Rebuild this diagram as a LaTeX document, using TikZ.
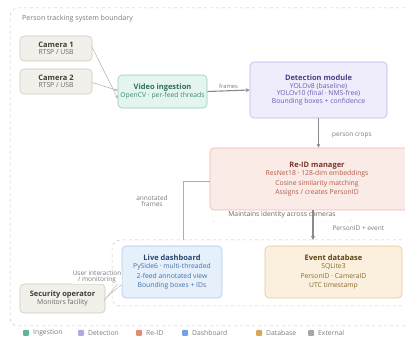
\documentclass[tikz,border=0pt]{standalone}
\usepackage{fontspec}
\setmainfont{Open Sans}
\usetikzlibrary{arrows.meta}
\definecolor{ingF}{HTML}{E3F5EE}\definecolor{ingD}{HTML}{8FD0B5}\definecolor{ingT}{HTML}{2F6E55}\definecolor{ingB}{HTML}{3D8A6A}\definecolor{ingL}{HTML}{5FB592}
\definecolor{detF}{HTML}{EFECFB}\definecolor{detD}{HTML}{BCB3EA}\definecolor{detT}{HTML}{4B3F86}\definecolor{detB}{HTML}{6A5FB0}\definecolor{detL}{HTML}{B3A6E6}
\definecolor{reiF}{HTML}{FBEBE7}\definecolor{reiD}{HTML}{E8B9AD}\definecolor{reiT}{HTML}{7A3526}\definecolor{reiB}{HTML}{B05A48}\definecolor{reiL}{HTML}{E08A78}
\definecolor{dshF}{HTML}{E6F0FB}\definecolor{dshD}{HTML}{A9C8EC}\definecolor{dshT}{HTML}{27466E}\definecolor{dshB}{HTML}{4170A8}\definecolor{dshL}{HTML}{6FA4E0}
\definecolor{dbsF}{HTML}{FBF0DE}\definecolor{dbsD}{HTML}{E4C694}\definecolor{dbsT}{HTML}{5C4215}\definecolor{dbsB}{HTML}{8A6A30}\definecolor{dbsL}{HTML}{D9A55A}
\definecolor{extF}{HTML}{F2F0EA}\definecolor{extD}{HTML}{CDC8BB}\definecolor{extT}{HTML}{3F3D38}\definecolor{extB}{HTML}{6B675E}\definecolor{extL}{HTML}{A8A6A0}
\definecolor{lbl}{HTML}{7A7A7A}
\definecolor{conn}{HTML}{8A8A8A}
\newcommand\bttl[2]{{\fontsize{7.5}{9}\selectfont\bfseries\color{#1}#2}}
\begin{document}
\begin{tikzpicture}[x=1pt,y=-1pt,
  box/.style={draw, rounded corners=4pt, line width=0.6pt, align=center, inner sep=0pt},
  sm/.style={font=\fontsize{6.8}{7.6}\selectfont},
  lg/.style={font=\fontsize{6.8}{9.3}\selectfont},
  lab/.style={font=\fontsize{6.5}{7.5}\selectfont, text=lbl, align=center, inner sep=1pt},
  thin/.style={draw=conn!70, line width=0.5pt, -{Stealth[length=3pt,width=2.5pt]}},
  thick/.style={draw=conn, line width=1.1pt, -{Stealth[length=4pt,width=4pt]}},
  grp/.style={draw=gray!45, dashed, line width=0.5pt, rounded corners=8pt, inner sep=0pt},
  leg/.style={minimum size=6pt, inner sep=0pt, rounded corners=1pt},
  legt/.style={font=\fontsize{6.8}{7.5}\selectfont, text=lbl, anchor=west, inner sep=0pt}
]
\useasboundingbox (0,0) rectangle (405,339);
\clip (0,0) rectangle (405,339);
% boundaries
\node[grp, minimum width=415pt, minimum height=318pt] (outer) at (217.5,167) {};
\node[lab, anchor=west, font=\fontsize{7.1}{8}\selectfont] (bl) at (21,19) {Person tracking system boundary};
\node[grp, minimum width=310pt, minimum height=66pt] (inner) at (267,273) {};
% maintains label box
\node[draw=gray!25, dashed, rounded corners=3pt, minimum width=140pt, minimum height=22pt, inner sep=0pt] (mbox) at (282,211) {};
% boxes
\node[box, sm, fill=extF, draw=extD, text=extB, minimum width=72pt, minimum height=25pt] (cam1) at (56,48.5)
  {\bttl{extT}{Camera 1}\\[-1pt]RTSP / USB};
\node[box, sm, fill=extF, draw=extD, text=extB, minimum width=72pt, minimum height=25pt] (cam2) at (56,81.5)
  {\bttl{extT}{Camera 2}\\[-1pt]RTSP / USB};
\node[box, sm, fill=ingF, draw=ingD, text=ingB, minimum width=89pt, minimum height=33pt] (ing) at (162.5,91.5)
  {\bttl{ingT}{Video ingestion}\\[1pt]OpenCV · per-feed threads};
\node[box, sm, fill=detF, draw=detD, text=detB, minimum width=137pt, minimum height=56pt] (det) at (318.5,90)
  {\bttl{detT}{Detection module}\\[0pt]YOLOv8 (baseline)\\YOLOv10 (final · NMS-free)\\Bounding boxes + confidence};
\node[box, lg, fill=reiF, draw=reiD, text=reiB, minimum width=214pt, minimum height=62pt] (reid) at (317,179)
  {\bttl{reiT}{Re-ID manager}\\[-1pt]ResNet18 · 128-dim embeddings\\Cosine similarity matching\\Assigns / creates PersonID};
\node[font=\fontsize{6.8}{7.5}\selectfont, text=extB, inner sep=0pt] (mtxt) at (282,215) {Maintains identity across cameras};
\node[box, lg, fill=dshF, draw=dshD, text=dshB, minimum width=100pt, minimum height=52pt] (dash) at (172,272)
  {\bttl{dshT}{Live dashboard}\\[-1pt]PySide6 · multi-threaded\\2-feed annotated view\\Bounding boxes + IDs};
\node[box, lg, fill=dbsF, draw=dbsD, text=dbsB, minimum width=137pt, minimum height=52pt] (db) at (333.5,272)
  {\bttl{dbsT}{Event database}\\[-1pt]SQLite3\\PersonID · CameraID\\UTC timestamp};
\node[box, sm, fill=extF, draw=extD, text=extB, minimum width=85pt, minimum height=29pt] (op) at (62.5,298.5)
  {\bttl{extT}{Security operator}\\[0pt]Monitors facility};
% connectors
\coordinate (ingA) at ([yshift=-7pt]ing.west);
\coordinate (ingB) at ([yshift=1pt]ing.west);
\draw[thin] ([yshift=1pt]cam1.east) -- (ingA);
\draw[thin] ([yshift=-1pt]cam2.east) -- (ingB);
\draw[thick] (ing.east) -- (det.west) node[lab, midway, above=1pt, font=\fontsize{5.8}{6.5}\selectfont] (lf) {frames};
\draw[thick] (det.south) -- (reid.north-|det.south) node[lab, pos=0.6, right=12pt] (lpc) {person crops};
\coordinate (dbtop) at (313,240);
\draw[thick] (reid.south-|dbtop) -- (dbtop) node[lab, pos=0.6, right=18pt] (lpe) {PersonID + event};
\coordinate (afA) at (183,181);
\coordinate (afB) at (183,240);
\draw[draw=conn!70, line width=0.6pt] (reid.west|-afA) -- (afA) -- (afB);
\node[lab] (laf) at (152,201) {annotated\\[-2pt]frames};
\coordinate (uA) at (119,282);
\coordinate (uB) at (121,285);
\draw[draw=conn!60, line width=0.5pt] ([xshift=-1pt,yshift=-2pt]op.east) -- (uA);
\draw[draw=conn!60, line width=0.5pt] ([xshift=1pt,yshift=1pt]op.east) -- (uB);
\node[lab, fill=white, fill opacity=0.8, text opacity=1] (lui) at (97,277) {User interaction\\[-2pt]/ monitoring};
% legend
\node[leg, fill=ingL] (l1) at (26,333) {}; \node[legt] (t1) at (33,333) {Ingestion};
\node[leg, fill=detL] (l2) at (81,333) {}; \node[legt] (t2) at (88,333) {Detection};
\node[leg, fill=reiL] (l3) at (139,333) {}; \node[legt] (t3) at (146,333) {Re-ID};
\node[leg, fill=dshL] (l4) at (185,333) {}; \node[legt] (t4) at (192,333) {Dashboard};
\node[leg, fill=dbsL] (l5) at (259,333) {}; \node[legt] (t5) at (266,333) {Database};
\node[leg, fill=extL] (l6) at (311,333) {}; \node[legt] (t6) at (318,333) {External};
\end{tikzpicture}
\end{document}
